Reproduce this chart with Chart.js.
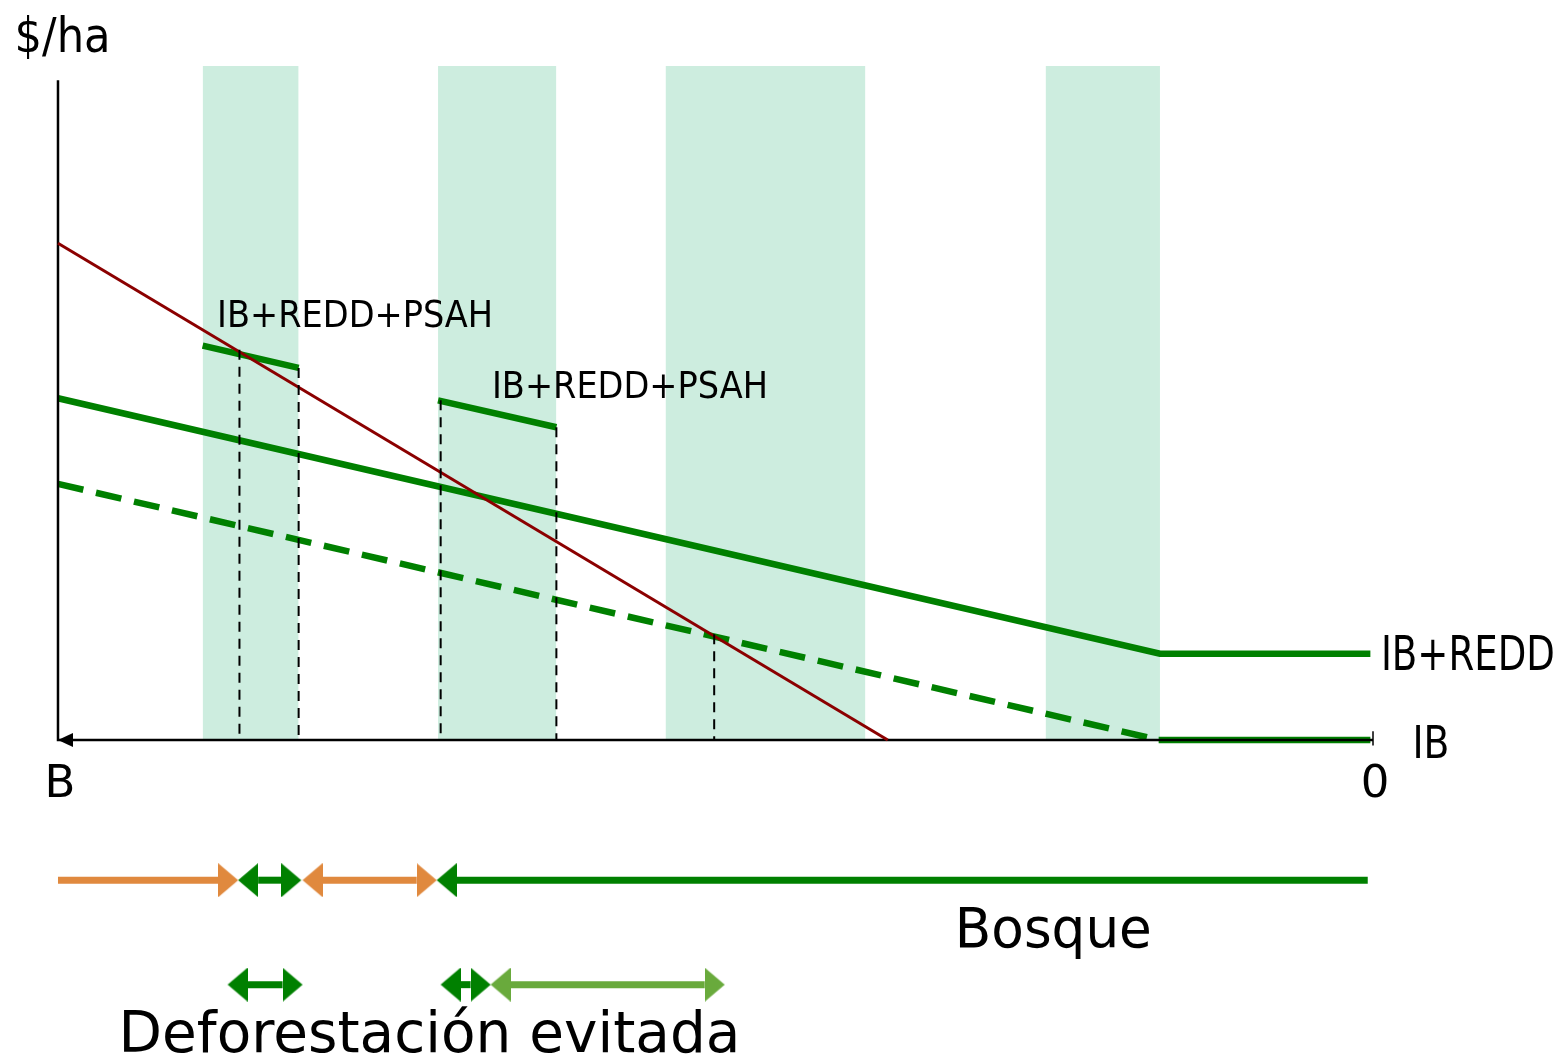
<!DOCTYPE html>
<html>
<head>
<meta charset="utf-8">
<title>Deforestación evitada</title>
<script src="https://cdn.jsdelivr.net/npm/chart.js@4.4.0/dist/chart.umd.min.js"></script>
<style>
  html, body { margin: 0; padding: 0; background: #ffffff; }
  #chart { display: block; }
</style>
</head>
<body>
<canvas id="chart" width="1560" height="1058"></canvas>
<script>
// Horizontal axis runs from B (0) to 0 (100); vertical axis is $/ha (axis line = 0, band top = 100)

// shaded bands
const bandStart = [11.0, 28.9, 46.2, 75.1];
const bandEnd   = [18.3, 37.9, 61.4, 83.8];

// opportunity cost (red line)
const costX = [0, 63.1];
const costY = [73.7, 0];

// IB+REDD
const ibReddX = [0, 83.8, 99.8];
const ibReddY = [50.7, 12.8, 12.8];

// IB (dashed slope, then flat on the axis)
const ibSlopeX = [0, 83.7];
const ibSlopeY = [38.0, 0];
const ibFlatX = [83.7, 99.8];
const ibFlatY = [0, 0];

// IB+REDD+PSAH short segments
const psahX = [[11.0, 18.3], [28.9, 37.9]];
const psahY = [[58.5, 55.2], [50.4, 46.4]];

// dashed drop lines
const dropX   = [13.8, 18.3, 29.1, 37.9, 49.9];
const dropTop = [57.9, 55.2, 50.4, 46.4, 15.7];

// arrows below the axis
const arrowStart = [0, 13.7, 18.6, 28.8, 12.9, 29.1, 32.9];
const arrowEnd   = [13.7, 18.5, 28.8, 99.6, 18.6, 32.9, 50.7];
const arrowLevel = [-20.8, -20.8, -20.8, -20.8, -36.3, -36.3, -36.3];
const arrowHeads = ['end', 'both', 'both', 'start', 'both', 'both', 'both'];
const arrowKind  = ['deforest', 'avoided', 'deforest', 'forest', 'avoided', 'avoided', 'avoidedLight'];

// text labels (anchored on their baseline)
const labelText = ['$/ha', 'IB+REDD+PSAH', 'IB+REDD+PSAH', 'IB+REDD', 'IB', 'B', '0', 'Bosque', 'Deforestación evitada'];
const labelX    = [-3.3, 12.1, 33.0, 100.6, 103.0, 0.15, 100.15, 68.2, 4.6];
const labelY    = [102.1, 61.3, 50.7, 10.4, -2.7, -8.5, -8.5, -30.7, -46.3];

// ---------------------------------------------------------------------------
const GREEN = '#008000';
const RED = '#8b0000';
const BAND = '#cdeddf';
const kindColors = {
    deforest: '#e0893e',
    avoided: GREEN,
    forest: GREEN,
    avoidedLight: '#69aa3c'
};
const FONT = '"DejaVu Sans", sans-serif';
const labelSizes  = [48, 38, 38, 48, 45, 45, 45, 55, 57];
const labelWidths = [96, 276, 276, 174, 37, null, null, 197, 622];
const labelAlign  = ['left', 'left', 'left', 'left', 'left', 'center', 'center', 'left', 'left'];

const W = 1560, H = 1058;
const X_MIN = -4.41, X_MAX = 114.22;
const Y_MIN = -47.18, Y_MAX = 109.79;
const pxPerX = W / (X_MAX - X_MIN);

function toPoints(xs, ys) {
    return xs.map((x, i) => ({ x: x, y: ys[i] }));
}

// arrowhead image: tip at the centre of the canvas, pointing right
function makeHead(color, len, half) {
    const c = document.createElement('canvas');
    c.width = len * 2;
    c.height = half * 2;
    const g = c.getContext('2d');
    g.fillStyle = color;
    g.beginPath();
    g.moveTo(0, 0);
    g.lineTo(len, half);
    g.lineTo(0, half * 2);
    g.closePath();
    g.fill();
    return c;
}

const HEAD_LEN = 20, HEAD_HALF = 17;
const heads = {};
Object.keys(kindColors).forEach(k => {
    heads[k] = makeHead(kindColors[k], HEAD_LEN, HEAD_HALF);
});
const axisHead = makeHead('#000000', 15, 7);

function line(data, color, width, order, extra) {
    return Object.assign({
        data: data,
        showLine: true,
        borderColor: color,
        borderWidth: width,
        pointRadius: 0,
        fill: false,
        order: order
    }, extra || {});
}

const datasets = [];

// bands
bandStart.forEach((s, i) => {
    datasets.push(line([{ x: s, y: 100 }, { x: bandEnd[i], y: 100 }], 'rgba(0,0,0,0)', 0, 9, {
        fill: { value: 0 },
        backgroundColor: BAND
    }));
});

// green curves
datasets.push(line(toPoints(ibReddX, ibReddY), GREEN, 6.5, 5));
datasets.push(line(toPoints(ibSlopeX, ibSlopeY), GREEN, 6.5, 5, { borderDash: [26, 13] }));
datasets.push(line(toPoints(ibFlatX, ibFlatY), GREEN, 6.5, 5));
psahX.forEach((xs, i) => datasets.push(line(toPoints(xs, psahY[i]), GREEN, 6.5, 5)));

// axes
datasets.push(line([{ x: 0, y: 97.9 }, { x: 0, y: 0 }, { x: 100, y: 0 }], '#000000', 2.5, 4));
datasets.push(line([{ x: 100, y: 1.3 }, { x: 100, y: -0.8 }], '#000000', 1.5, 4));
datasets.push({
    data: [{ x: 0, y: 0 }],
    pointStyle: axisHead,
    pointRadius: 8,
    pointRotation: 180,
    order: 4
});

// opportunity cost
datasets.push(line(toPoints(costX, costY), RED, 3, 3));

// drop lines
dropX.forEach((x, i) => {
    datasets.push(line([{ x: x, y: dropTop[i] }, { x: x, y: 0 }], '#000000', 2, 2, { borderDash: [10, 7] }));
});

// arrows
const headOff = HEAD_LEN / pxPerX;
arrowStart.forEach((s, i) => {
    const e = arrowEnd[i];
    const y = arrowLevel[i];
    const kind = arrowKind[i];
    const hasStart = arrowHeads[i] === 'start' || arrowHeads[i] === 'both';
    const hasEnd = arrowHeads[i] === 'end' || arrowHeads[i] === 'both';
    const x0 = hasStart ? s + headOff : s;
    const x1 = hasEnd ? e - headOff : e;
    datasets.push(line([{ x: x0, y: y }, { x: x1, y: y }], kindColors[kind], 7, 1));
    const tips = [], rot = [];
    if (hasStart) { tips.push({ x: s, y: y }); rot.push(180); }
    if (hasEnd) { tips.push({ x: e, y: y }); rot.push(0); }
    datasets.push({
        data: tips,
        pointStyle: heads[kind],
        pointRadius: 10,
        pointRotation: rot,
        order: 0
    });
});

const labelPlugin = {
    id: 'labels',
    afterDatasetsDraw(chart) {
        const ctx = chart.ctx;
        const xs = chart.scales.x, ys = chart.scales.y;
        labelText.forEach((t, i) => {
            ctx.save();
            ctx.fillStyle = '#000000';
            ctx.textBaseline = 'alphabetic';
            ctx.textAlign = labelAlign[i];
            ctx.font = labelSizes[i] + 'px ' + FONT;
            ctx.translate(xs.getPixelForValue(labelX[i]), ys.getPixelForValue(labelY[i]));
            if (labelWidths[i]) {
                ctx.scale(labelWidths[i] / ctx.measureText(t).width, 1);
            }
            ctx.fillText(t, 0, 0);
            ctx.restore();
        });
    }
};

new Chart(document.getElementById('chart'), {
    type: 'scatter',
    data: { datasets: datasets },
    options: {
        responsive: false,
        devicePixelRatio: 1,
        animation: false,
        events: [],
        layout: { padding: 0, autoPadding: false },
        plugins: {
            legend: { display: false },
            tooltip: { enabled: false }
        },
        scales: {
            x: { type: 'linear', min: X_MIN, max: X_MAX, display: false },
            y: { type: 'linear', min: Y_MIN, max: Y_MAX, display: false }
        }
    },
    plugins: [labelPlugin]
});
</script>
</body>
</html>
